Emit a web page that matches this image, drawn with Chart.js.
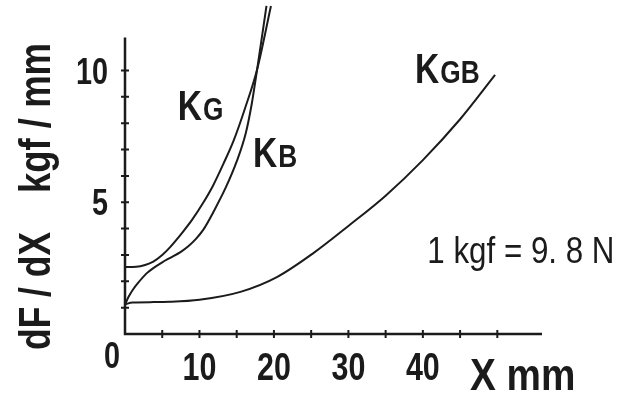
<!DOCTYPE html>
<html><head><meta charset="utf-8">
<script src="https://cdn.jsdelivr.net/npm/chart.js@4/dist/chart.umd.min.js"></script>
<style>html,body{margin:0;padding:0;background:#fff;}#wrap{width:621px;height:396px;}</style>
</head><body><div id="wrap"><canvas id="c" width="621" height="396"></canvas></div>
<script>
// ---- data ----
const kgX  = [0, 1.5, 2.7, 3.8, 5.0, 6.0, 7.7, 9.0, 10.5, 11.8, 13.2, 14.6, 16.1, 17.75, 19.6];
const kgY  = [2.54, 2.55, 2.62, 2.75, 3.0, 3.28, 3.85, 4.33, 4.98, 5.62, 6.45, 7.35, 8.55, 10.05, 12.45];
const kbX  = [0, 0.5, 1.1, 1.7, 2.9, 3.8, 5.0, 6.0, 7.5, 8.5, 9.5, 10.5, 12.0, 13.6, 15.0, 16.2, 17.0, 17.75, 19.0];
const kbY  = [1.12, 1.42, 1.7, 1.92, 2.3, 2.5, 2.72, 2.88, 3.12, 3.33, 3.6, 3.95, 4.7, 5.6, 6.55, 7.6, 8.7, 10.05, 12.45];
const kgbX = [0, 1.0, 3.8, 6.0, 10.0, 15.5, 20.4, 25.3, 30.0, 35.0, 40.0, 45.0, 49.7];
const kgbY = [1.12, 1.2, 1.21, 1.22, 1.3, 1.6, 2.16, 3.07, 4.1, 5.25, 6.6, 8.15, 9.83];

const xTickMarks  = [5, 10, 15, 20, 25, 30, 35, 40, 45, 50];
const xTickLabels = [10, 20, 30, 40];
const yTickMarks  = [1, 2, 3, 4, 5, 6, 7, 8, 9, 10];
const yTickLabels = [5, 10];
const originLabel = '0';
const yTitleParts = ['dF / dX', 'kgf / mm'];
const xTitle = 'X mm';
const noteText = '1 kgf = 9. 8 N';
const curveLabels = [['K', 'G'], ['K', 'B'], ['K', 'GB']];

// ---- layout / annotation placement ----
const curveLabelPos = [[7.1, 8.12], [17.2, 6.34], [38.95, 9.53]];
const notePos = [40.6, 2.69];
const yAxisTop = 11.25;

const pts = (xs, ys) => xs.map((x, i) => ({x, y: ys[i]}));
const INK = '#1b1b1b';
const FONT = '"Liberation Sans", Arial, sans-serif';

function txt(ctx, s, x, y, size, weight, sx, align, rot) {
  ctx.save();
  ctx.translate(x, y);
  if (rot) ctx.rotate(rot);
  ctx.font = weight + ' ' + size + 'px ' + FONT;
  if (sx < 0) sx = -sx / ctx.measureText(s).width; // fit to given length
  ctx.scale(sx, 1);
  ctx.textAlign = align;
  ctx.textBaseline = 'alphabetic';
  ctx.fillStyle = INK;
  ctx.fillText(s, 0, 0);
  const w = ctx.measureText(s).width * sx;
  ctx.restore();
  return w;
}

const axesPlugin = {
  id: 'axesPlugin',
  afterDraw(chart) {
    const ctx = chart.ctx, xs = chart.scales.x, ys = chart.scales.y;
    const x0 = xs.getPixelForValue(0), y0 = ys.getPixelForValue(0);
    ctx.save();
    ctx.strokeStyle = INK;
    ctx.lineWidth = 2.5;
    ctx.beginPath();
    ctx.moveTo(x0, ys.getPixelForValue(yAxisTop));
    ctx.lineTo(x0, y0);
    ctx.lineTo(chart.chartArea.right, y0);
    ctx.stroke();
    ctx.lineWidth = 2;
    ctx.beginPath();
    xTickMarks.forEach(v => { const p = xs.getPixelForValue(v); ctx.moveTo(p, y0 - 4); ctx.lineTo(p, y0 + 4); });
    yTickMarks.forEach(v => { const p = ys.getPixelForValue(v); ctx.moveTo(x0 - 4, p); ctx.lineTo(x0 + 4, p); });
    ctx.stroke();
    ctx.restore();

    // tick labels
    xTickLabels.forEach(v => txt(ctx, String(v), xs.getPixelForValue(v), y0 + 46, 39, 'bold', 0.78, 'center'));
    yTickLabels.forEach(v => txt(ctx, String(v), x0 - 17, ys.getPixelForValue(v) + 13, 36, 'bold', 0.8, 'right'));
    txt(ctx, originLabel, x0 - 13, y0 + 34, 36, 'bold', 0.8, 'center');

    // axis titles (rotated, fitted to the measured lengths)
    txt(ctx, yTitleParts[0], 50, 291, 44, 'bold', -118, 'center', -Math.PI / 2);
    txt(ctx, yTitleParts[1], 50, 118, 44, 'bold', -150, 'center', -Math.PI / 2);
    txt(ctx, xTitle, 470, 390, 45, 'bold', 0.86, 'left');

    // curve labels
    curveLabels.forEach((lab, i) => {
      const px = xs.getPixelForValue(curveLabelPos[i][0]);
      const py = ys.getPixelForValue(curveLabelPos[i][1]);
      const w = txt(ctx, lab[0], px, py, 43, 'bold', 0.78, 'left');
      txt(ctx, lab[1], px + w + 1, py, 32, 'bold', 0.82, 'left');
    });

    // note
    txt(ctx, noteText, xs.getPixelForValue(notePos[0]), ys.getPixelForValue(notePos[1]), 36, 'normal', 0.87, 'left');
  }
};

const ds = (label, data) => ({
  label, data, showLine: true, borderColor: INK, borderWidth: 2,
  pointRadius: 0, fill: false, cubicInterpolationMode: 'monotone'
});

new Chart(document.getElementById('c'), {
  type: 'scatter',
  data: { datasets: [ds('KG', pts(kgX, kgY)), ds('KB', pts(kbX, kbY)), ds('KGB', pts(kgbX, kgbY))] },
  options: {
    responsive: false, animation: false, devicePixelRatio: 1,
    layout: { padding: { left: 125, right: 79, top: 2, bottom: 62 } },
    scales: {
      x: { type: 'linear', min: 0, max: 56, display: false },
      y: { type: 'linear', min: 0, max: 12.6, display: false }
    },
    plugins: { legend: { display: false }, tooltip: { enabled: false } }
  },
  plugins: [axesPlugin]
});
</script></body></html>
